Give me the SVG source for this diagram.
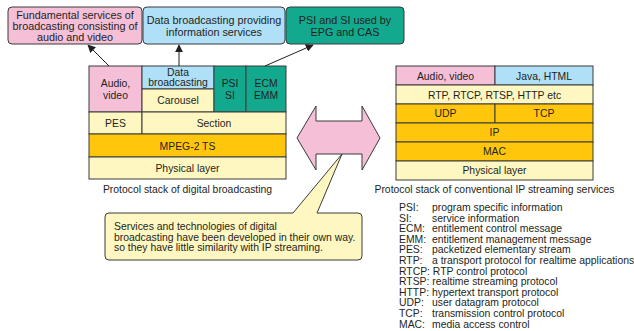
<svg xmlns="http://www.w3.org/2000/svg" width="634" height="331" viewBox="0 0 634 331">
  <style>
    text { font-family: "Liberation Sans", Arial, sans-serif; font-size: 10.4px; fill: #231f20; }
    .c { text-anchor: middle; }
    .big { font-size: 10.8px; }
    .cell { stroke: #3a3a3a; stroke-width: 1; }
    .pink { fill: #f5bfd8; }
    .blue { fill: #b0e0f7; }
    .teal { fill: #12a98f; }
    .cream { fill: #fff7c2; }
    .gold { fill: #ffc60b; }
    .conn { stroke: #231f20; stroke-width: 1; fill: none; marker-end: url(#head); }
  </style>
  <defs>
    <marker id="head" viewBox="0 0 10 10" refX="9" refY="5" markerWidth="8" markerHeight="8" markerUnits="userSpaceOnUse" orient="auto">
      <path d="M0,0 L10,5 L0,10 Z" fill="#231f20"/>
    </marker>
  </defs>
  <rect width="634" height="331" fill="#ffffff"/>

  <!-- service boxes -->
  <g id="svc-av">
    <rect class="cell pink" x="8" y="7" width="134" height="37" rx="4"/>
    <text class="c big" x="75" y="18.5">Fundamental services of</text>
    <text class="c big" x="75" y="29.5">broadcasting consisting of</text>
    <text class="c big" x="75" y="40.5">audio and video</text>
  </g>
  <g id="svc-data">
    <rect class="cell blue" x="143" y="7" width="142" height="37" rx="4"/>
    <text class="c big" x="214" y="24">Data broadcasting providing</text>
    <text class="c big" x="214" y="35.5">information services</text>
  </g>
  <g id="svc-psi">
    <rect class="cell teal" x="286" y="7" width="118" height="37" rx="4"/>
    <text class="c big" x="345" y="24">PSI and SI used by</text>
    <text class="c big" x="345" y="35.5">EPG and CAS</text>
  </g>

  <!-- digital broadcasting stack -->
  <g id="stack-broadcast">
    <rect class="cell pink" x="89" y="66" width="53" height="46"/>
    <text class="c" x="115.5" y="86.5">Audio,</text>
    <text class="c" x="115.5" y="98.5">video</text>
    <rect class="cell blue" x="142" y="66" width="72" height="23"/>
    <text class="c" x="178" y="75.5">Data</text>
    <text class="c" x="178" y="85.5">broadcasting</text>
    <rect class="cell cream" x="142" y="89" width="72" height="23"/>
    <text class="c" x="178" y="104">Carousel</text>
    <rect class="cell teal" x="214" y="66" width="32" height="46"/>
    <text class="c" x="230" y="86.5">PSI</text>
    <text class="c" x="230" y="98.5">SI</text>
    <rect class="cell teal" x="246" y="66" width="40" height="46"/>
    <text class="c" x="266" y="86.5">ECM</text>
    <text class="c" x="266" y="98.5">EMM</text>
    <rect class="cell cream" x="89" y="112" width="53" height="22"/>
    <text class="c" x="115.5" y="126.5">PES</text>
    <rect class="cell cream" x="142" y="112" width="144" height="22"/>
    <text class="c" x="214" y="126.5">Section</text>
    <rect class="cell gold" x="89" y="134" width="197" height="23"/>
    <text class="c" x="187.5" y="149.5">MPEG-2 TS</text>
    <rect class="cell cream" x="89" y="157" width="197" height="22"/>
    <text class="c" x="187.5" y="171.5">Physical layer</text>
    <text class="c" x="187.5" y="193">Protocol stack of digital broadcasting</text>
  </g>

  <!-- IP streaming stack -->
  <g id="stack-ip">
    <rect class="cell pink" x="396" y="66" width="99" height="19"/>
    <text class="c" x="445.5" y="79.5">Audio, video</text>
    <rect class="cell blue" x="495" y="66" width="98" height="19"/>
    <text class="c" x="544" y="79.5">Java, HTML</text>
    <rect class="cell cream" x="396" y="85" width="197" height="19"/>
    <text class="c" x="494.5" y="98.5">RTP, RTCP, RTSP, HTTP etc</text>
    <rect class="cell gold" x="396" y="104" width="99" height="19"/>
    <text class="c" x="445.5" y="117">UDP</text>
    <rect class="cell gold" x="495" y="104" width="98" height="19"/>
    <text class="c" x="544" y="117">TCP</text>
    <rect class="cell gold" x="396" y="123" width="197" height="19"/>
    <text class="c" x="494.5" y="136">IP</text>
    <rect class="cell gold" x="396" y="142" width="197" height="19"/>
    <text class="c" x="494.5" y="155">MAC</text>
    <rect class="cell cream" x="396" y="161" width="197" height="19"/>
    <text class="c" x="494.5" y="174">Physical layer</text>
    <text class="c" x="494.5" y="193">Protocol stack of conventional IP streaming services</text>
  </g>

  <!-- connectors from stack to services -->
  <g id="connectors">
    <line class="conn" x1="109" y1="66" x2="88" y2="45"/>
    <line class="conn" x1="179" y1="66" x2="179" y2="45"/>
    <line class="conn" x1="265" y1="66" x2="313" y2="45"/>
  </g>

  <!-- double-headed comparison arrow -->
  <g id="compare-arrow">
    <path d="M297,138 L316,106 L316,121 L362,121 L362,106 L380,138 L362,170 L362,154 L316,154 L316,170 Z" fill="#f5bfd8" stroke="#3a3a3a" stroke-width="1"/>
  </g>

  <!-- callout -->
  <g id="callout">
    <path d="M109,213 L293,213 L342,154 L317,213 L358,213 Q362,213 362,217 L362,256 Q362,260 358,260 L109,260 Q105,260 105,256 L105,217 Q105,213 109,213 Z" fill="#fff7c2" stroke="#3a3a3a" stroke-width="1"/>
    <text x="114" y="229.5">Services and technologies of digital</text>
    <text x="114" y="240.5">broadcasting have been developed in their own way.</text>
    <text x="114" y="251">so they have little similarity with IP streaming.</text>
  </g>

  <!-- abbreviations -->
  <g id="legend">
    <text x="399" y="211">PSI:</text><text x="432" y="211">program specific information</text>
    <text x="399" y="221.6">SI:</text><text x="432" y="221.6">service information</text>
    <text x="399" y="232.2">ECM:</text><text x="432" y="232.2">entitlement control message</text>
    <text x="399" y="242.8">EMM:</text><text x="432" y="242.8">entitlement management message</text>
    <text x="399" y="253.4">PES:</text><text x="432" y="253.4">packetized elementary stream</text>
    <text x="399" y="264">RTP:</text><text x="432" y="264">a transport protocol for realtime applications</text>
    <text x="399" y="274.6">RTCP: RTP control protocol</text>
    <text x="399" y="285.2">RTSP: realtime streaming protocol</text>
    <text x="399" y="295.8">HTTP: hypertext transport protocol</text>
    <text x="399" y="306.4">UDP:</text><text x="432" y="306.4">user datagram protocol</text>
    <text x="399" y="317">TCP:</text><text x="432" y="317">transmission control protocol</text>
    <text x="399" y="327.6">MAC:</text><text x="432" y="327.6">media access control</text>
  </g>
</svg>
